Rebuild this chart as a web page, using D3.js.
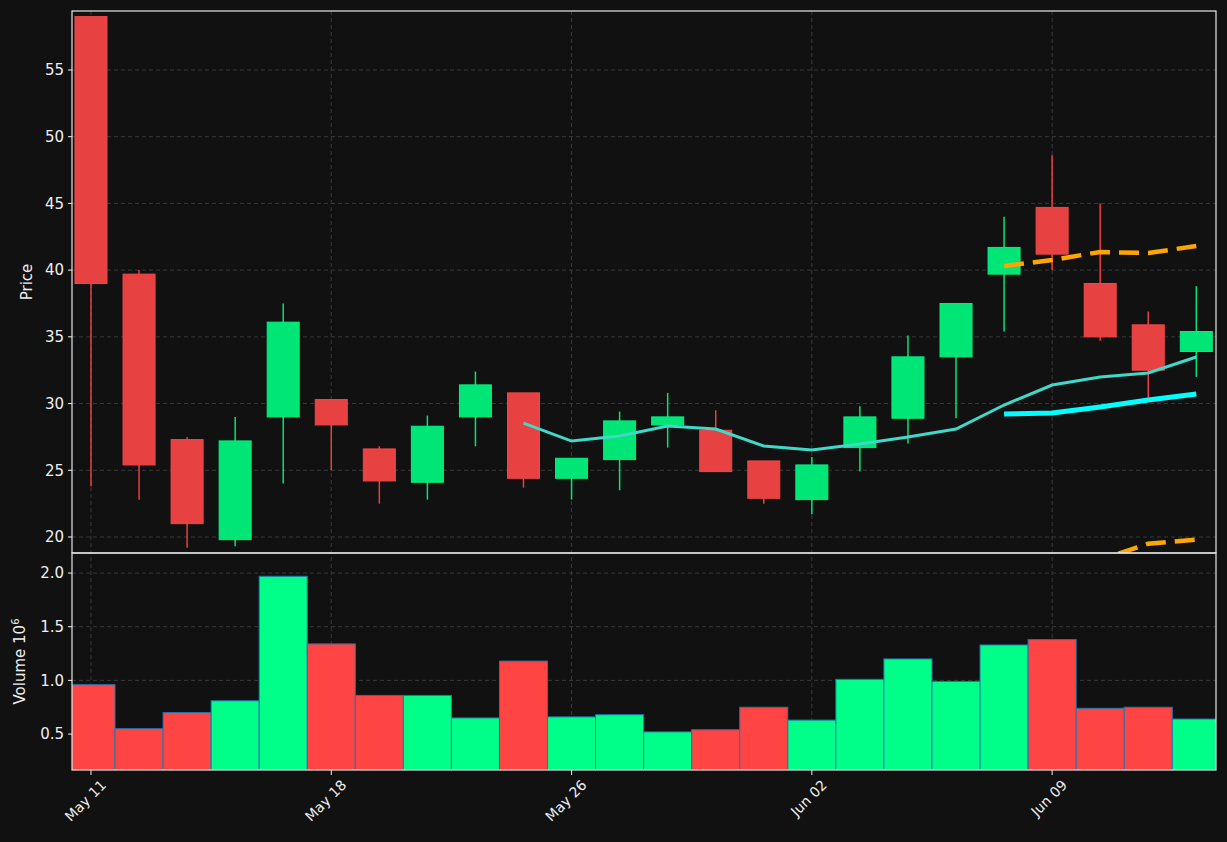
<!DOCTYPE html>
<html><head><meta charset="utf-8">
<script src="https://cdn.jsdelivr.net/npm/d3@7"></script>
<style>body{margin:0;background:#111111;}svg{display:block;font-family:"DejaVu Sans",sans-serif;}</style>
</head><body><svg id="c" width="1227" height="842"></svg>
<script>
const opens  = [59.0,39.7,27.3,19.8,29.0,30.3,26.6,24.1,29.0,30.8,24.4,25.8,28.4,28.0,25.7,22.8,26.7,28.9,33.5,39.7,44.7,39.0,35.9,33.9];
const highs  = [59.0,40.0,27.5,29.0,37.5,30.3,26.8,29.1,32.4,30.8,25.9,29.4,30.8,29.5,25.7,26.0,29.8,35.1,37.5,44.0,48.6,45.0,36.9,38.8];
const lows   = [23.8,22.8,19.2,19.3,24.0,25.0,22.5,22.8,26.8,23.7,22.8,23.5,26.7,24.9,22.5,21.7,24.9,27.0,28.9,35.4,40.0,34.7,30.4,32.0];
const closes = [39.0,25.4,21.0,27.2,36.1,28.4,24.2,28.3,31.4,24.4,25.9,28.7,29.0,24.9,22.9,25.4,29.0,33.5,37.5,41.7,41.2,35.0,32.5,35.4];
const volumes= [0.96,0.55,0.70,0.81,1.97,1.34,0.86,0.86,0.65,1.18,0.66,0.68,0.52,0.54,0.75,0.63,1.01,1.20,0.99,1.33,1.38,0.74,0.75,0.64];
const maStart = 9;
const maValues = [28.54,27.19,27.57,28.32,28.09,26.82,26.52,26.97,27.49,28.09,29.89,31.39,31.99,32.29,33.49];
const bandStart = 19;
const bandMid = [29.22,29.29,29.74,30.27,30.72];
const bandUpper = [40.31,40.76,41.36,41.28,41.81];
const bandLower = [18.1,17.8,18.3,19.5,19.8];
const tickIdx = [0,5,10,15,20];
const tickLabels = ["May 11","May 18","May 26","Jun 02","Jun 09"];
const priceTicks = [20,25,30,35,40,45,50,55];
const volTicks = [0.5,1.0,1.5,2.0];

const svg = d3.select("#c");
const L=72,R=1216,T=11,M=553,B=770;
const x = d3.scaleLinear().domain([-0.395,23.41]).range([L,R]);
const y = d3.scaleLinear().domain([18.8,59.42]).range([M,T]);
const yv = d3.scaleLinear().domain([0.165,2.187]).range([B,M]);
const RED="#e84142", GREEN="#00e676";
const grid="#3a3a3a";
svg.append("defs").append("clipPath").attr("id","pc").append("rect").attr("x",L).attr("y",T).attr("width",R-L).attr("height",M-T);
svg.select("defs").append("clipPath").attr("id","vc").append("rect").attr("x",L).attr("y",M).attr("width",R-L).attr("height",B-M);

const g=svg.append("g");
priceTicks.forEach(t=>g.append("line").attr("x1",L).attr("x2",R).attr("y1",y(t)).attr("y2",y(t)).attr("stroke",grid).attr("stroke-dasharray","4,3"));
volTicks.forEach(t=>g.append("line").attr("x1",L).attr("x2",R).attr("y1",yv(t)).attr("y2",yv(t)).attr("stroke",grid).attr("stroke-dasharray","4,3"));
tickIdx.forEach(i=>g.append("line").attr("x1",x(i)).attr("x2",x(i)).attr("y1",T).attr("y2",B).attr("stroke",grid).attr("stroke-dasharray","4,3"));

const pc=svg.append("g").attr("clip-path","url(#pc)");
const bw=32;
opens.forEach((o,i)=>{
  const c=closes[i], col=c>=o?GREEN:RED;
  pc.append("line").attr("x1",x(i)).attr("x2",x(i)).attr("y1",y(highs[i])).attr("y2",y(lows[i])).attr("stroke",col).attr("stroke-width",1.5);
  pc.append("rect").attr("x",x(i)-bw/2).attr("width",bw).attr("y",y(Math.max(o,c))).attr("height",Math.max(1,Math.abs(y(o)-y(c))))
    .attr("fill",col).attr("stroke",c>=o?"#00f080":"#f04848").attr("stroke-width",1);
});
const ln=(arr,start)=>d3.line().x((d,k)=>x(start+k)).y(d=>y(d))(arr);
pc.append("path").attr("d",ln(maValues,maStart)).attr("fill","none").attr("stroke","#40d8c8").attr("stroke-width",3);
pc.append("path").attr("d",ln(bandMid,bandStart)).attr("fill","none").attr("stroke","#00ffff").attr("stroke-width",5);
[bandUpper,bandLower].forEach(a=>pc.append("path").attr("d",ln(a,bandStart)).attr("fill","none").attr("stroke","#ffa500").attr("stroke-width",4.5).attr("stroke-dasharray","20,9"));

const vc=svg.append("g").attr("clip-path","url(#vc)");
volumes.forEach((v,i)=>{
  const col=closes[i]>=opens[i]?"#00ff88":"#ff4444";
  vc.append("rect").attr("x",x(i-0.5)).attr("width",x(1)-x(0)).attr("y",yv(v)).attr("height",B-yv(v)).attr("fill",col).attr("stroke","#1f77b4").attr("stroke-width",1);
});

svg.append("rect").attr("x",L).attr("y",T).attr("width",R-L).attr("height",M-T).attr("fill","none").attr("stroke","#e8e8e8").attr("stroke-width",1.2);
svg.append("rect").attr("x",L).attr("y",M).attr("width",R-L).attr("height",B-M).attr("fill","none").attr("stroke","#e8e8e8").attr("stroke-width",1.2);

const tc="#eeeeee";
priceTicks.forEach(t=>{
  svg.append("line").attr("x1",L-4).attr("x2",L).attr("y1",y(t)).attr("y2",y(t)).attr("stroke",tc);
  svg.append("text").attr("x",L-8).attr("y",y(t)).attr("dy","0.35em").attr("text-anchor","end").attr("fill",tc).attr("font-size",15).text(t);
});
volTicks.forEach(t=>{
  svg.append("line").attr("x1",L-4).attr("x2",L).attr("y1",yv(t)).attr("y2",yv(t)).attr("stroke",tc);
  svg.append("text").attr("x",L-8).attr("y",yv(t)).attr("dy","0.35em").attr("text-anchor","end").attr("fill",tc).attr("font-size",15).text(t.toFixed(1));
});
tickIdx.forEach((i,k)=>{
  svg.append("line").attr("x1",x(i)).attr("x2",x(i)).attr("y1",B).attr("y2",B+5).attr("stroke",tc);
  svg.append("text").attr("transform",`translate(${x(i)+16},${B+16}) rotate(-45)`).attr("text-anchor","end").attr("fill",tc).attr("font-size",14).text(tickLabels[k]);
});
svg.append("text").attr("transform",`translate(32,${(T+M)/2}) rotate(-90)`).attr("text-anchor","middle").attr("fill",tc).attr("font-size",15).text("Price");
const vt=svg.append("text").attr("transform",`translate(25,${(M+B)/2}) rotate(-90)`).attr("text-anchor","middle").attr("fill",tc).attr("font-size",15);
vt.append("tspan").text("Volume  10");
vt.append("tspan").attr("dy",-6).attr("font-size",10).text("6");
</script></body></html>
